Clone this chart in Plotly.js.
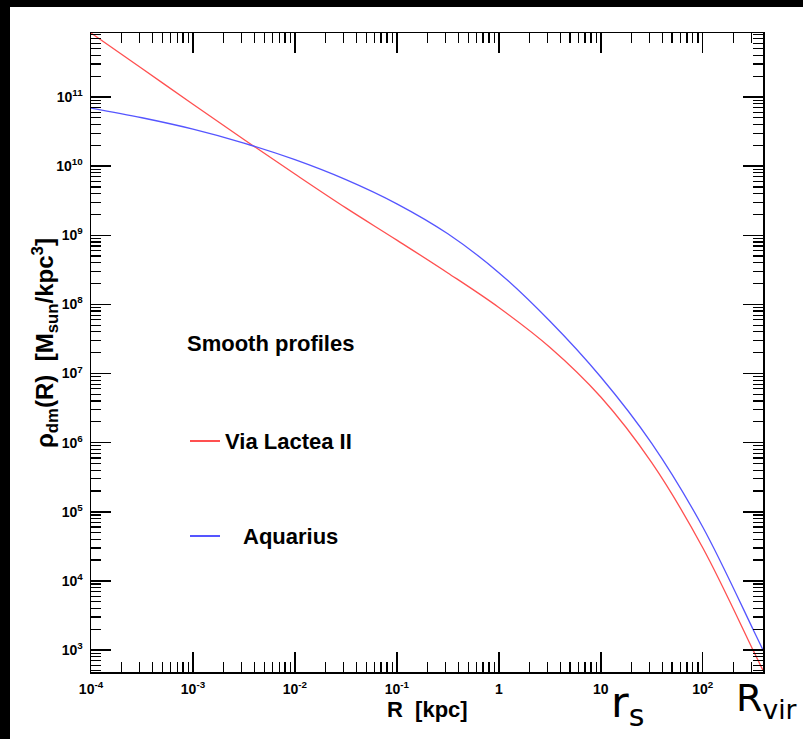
<!DOCTYPE html>
<html>
<head>
<meta charset="utf-8">
<script src="https://cdn.plot.ly/plotly-3.0.1.min.js"></script>
<style>html,body{margin:0;padding:0;background:#fff;}#chart{width:803px;height:739px;}</style>
</head>
<body>
<div id="chart"></div>
<script>
// Radius (kpc) and smooth dark-matter density (Msun/kpc^3)
const R_kpc = [1e-4, 3.16e-4, 1e-3, 3.16e-3, 1e-2, 3.16e-2, 0.1, 0.316, 1, 3.16, 10, 31.6, 100, 316, 390];
const rho_viaLactea = [8.43e11, 2.58e11, 7.87e10, 2.43e10, 7.69e9, 2.49e9, 8.51e8, 2.85e8, 9.02e7, 2.40e7, 4.57e6, 5.13e5, 3.02e4, 955, 504];
const rho_aquarius  = [6.92e10, 5.01e10, 3.43e10, 2.16e10, 1.24e10, 6.38e9, 2.85e9, 1.05e9, 2.88e8, 5.75e7, 8.91e6, 9.77e5, 6.03e4, 1905, 1000];

const seriesNames = ['Via Lactea II', 'Aquarius'];
const legendTitle = 'Smooth profiles';
const xTitle = 'R  [kpc]';
const yTitle = 'ρ<sub>dm</sub>(R)  [M<sub>sun</sub>/kpc<sup>3</sup>]';

const xTickVals = [1e-4, 1e-3, 1e-2, 1e-1, 1, 10, 100];
const xTickText = ['10<sup>-4</sup>', '10<sup>-3</sup>', '10<sup>-2</sup>', '10<sup>-1</sup>', '1', '10', '10<sup>2</sup>'];
const yTickVals = [1e3, 1e4, 1e5, 1e6, 1e7, 1e8, 1e9, 1e10, 1e11];
const yTickText = ['10<sup>3</sup>', '10<sup>4</sup>', '10<sup>5</sup>', '10<sup>6</sup>', '10<sup>7</sup>', '10<sup>8</sup>', '10<sup>9</sup>', '10<sup>10</sup>', '10<sup>11</sup>'];

const RED = '#ff5050';
const BLUE = '#5555ff';
const FONT = 'Liberation Sans, Arial, Helvetica, sans-serif';

const traces = [
  {x: R_kpc, y: rho_viaLactea, mode: 'lines', name: seriesNames[0],
   line: {color: RED, width: 1.3, shape: 'spline', smoothing: 1}, showlegend: false},
  {x: R_kpc, y: rho_aquarius, mode: 'lines', name: seriesNames[1],
   line: {color: BLUE, width: 1.3, shape: 'spline', smoothing: 1}, showlegend: false}
];

const W = 803, H = 739;
const mL = 91, mR = 40, mT = 33, mB = 67;
const pw = W - mL - mR, ph = H - mT - mB;
const px = v => (v - mL) / pw;          // pixel -> paper x
const py = v => (H - mB - v) / ph;      // pixel -> paper y

const tickFont = {family: FONT, size: 14, color: '#000', weight: 'bold'};
const axisCommon = {
  type: 'log', showgrid: false, zeroline: false,
  showline: true, linecolor: '#000', linewidth: 1.5, mirror: 'allticks',
  ticks: 'inside', ticklen: 20, tickwidth: 1.5, tickcolor: '#000',
  minor: {ticks: 'inside', ticklen: 10, tickwidth: 1.2, tickcolor: '#000', dtick: 'D1', showgrid: false},
  tickfont: tickFont
};

const layout = {
  width: W, height: H,
  paper_bgcolor: '#fff', plot_bgcolor: '#fff',
  margin: {l: mL, r: mR, t: mT, b: mB, pad: 0},
  showlegend: false,
  xaxis: Object.assign({}, axisCommon, {
    range: [-4, 2.591], tickmode: 'array', tickvals: xTickVals, ticktext: xTickText,
    ticklabelstandoff: 4
  }),
  yaxis: Object.assign({}, axisCommon, {
    range: [2.682, 11.926], tickmode: 'array', tickvals: yTickVals, ticktext: yTickText,
    ticklabelstandoff: 4
  }),
  shapes: [
    {type: 'rect', xref: 'paper', yref: 'paper', x0: px(-2), x1: px(10), y0: py(745), y1: py(-2),
     fillcolor: '#000', line: {width: 0}, layer: 'above'},
    {type: 'rect', xref: 'paper', yref: 'paper', x0: px(-2), x1: px(806), y0: py(7), y1: py(-2),
     fillcolor: '#000', line: {width: 0}, layer: 'above'},
    {type: 'line', xref: 'paper', yref: 'paper', x0: px(190), x1: px(220), y0: py(441), y1: py(441),
     line: {color: RED, width: 2}},
    {type: 'line', xref: 'paper', yref: 'paper', x0: px(190), x1: px(220), y0: py(536), y1: py(536),
     line: {color: BLUE, width: 2}}
  ],
  annotations: [
    {text: xTitle, xref: 'paper', yref: 'paper', x: px(427), y: py(709), xanchor: 'center', yanchor: 'middle',
     showarrow: false, font: {family: FONT, size: 22, color: '#000', weight: 'bold'}},
    {text: yTitle, xref: 'paper', yref: 'paper', x: px(45), y: py(343), xanchor: 'center', yanchor: 'middle',
     textangle: -90, showarrow: false, font: {family: FONT, size: 24, color: '#000', weight: 'bold'}},
    {text: legendTitle, xref: 'paper', yref: 'paper', x: px(185), y: py(343), xanchor: 'left', yanchor: 'middle',
     showarrow: false, font: {family: FONT, size: 22, color: '#000', weight: 'bold'}},
    {text: seriesNames[0], xref: 'paper', yref: 'paper', x: px(223), y: py(441), xanchor: 'left', yanchor: 'middle',
     showarrow: false, font: {family: FONT, size: 22, color: '#000', weight: 'bold'}},
    {text: seriesNames[1], xref: 'paper', yref: 'paper', x: px(241), y: py(536), xanchor: 'left', yanchor: 'middle',
     showarrow: false, font: {family: FONT, size: 22, color: '#000', weight: 'bold'}},
    {text: 'r<sub>s</sub>', xref: 'paper', yref: 'paper', x: px(609), y: py(705), xanchor: 'left', yanchor: 'middle',
     showarrow: false, font: {family: 'DejaVu Sans, sans-serif', size: 43, color: '#000'}},
    {text: 'R<sub>vir</sub>', xref: 'paper', yref: 'paper', x: px(734), y: py(700), xanchor: 'left', yanchor: 'middle',
     showarrow: false, font: {family: 'DejaVu Sans, sans-serif', size: 38, color: '#000'}}
  ]
};

Plotly.newPlot('chart', traces, layout, {staticPlot: true, displayModeBar: false});
</script>
</body>
</html>
